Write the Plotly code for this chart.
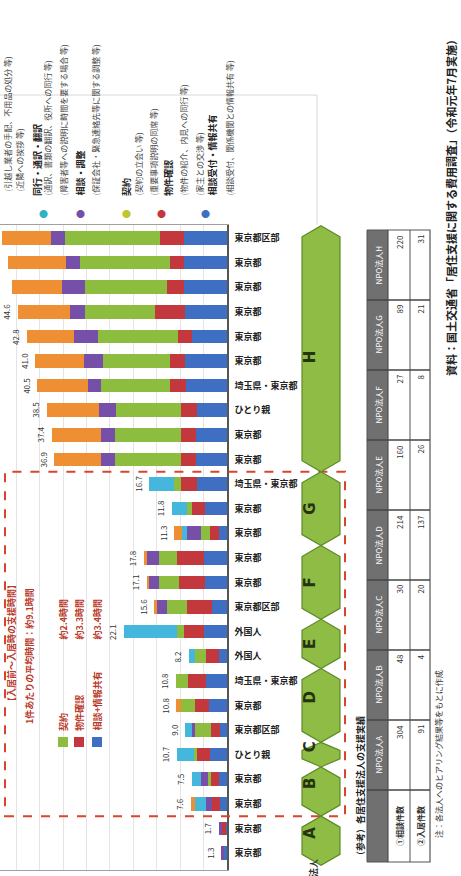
import plotly.graph_objects as go

# ---------------- data (original order: left→right = A … H) ----------------
cat_labels = ["東京都", "東京都", "東京都", "東京都", "ひとり親", "東京都区部", "東京都",
              "埼玉県・東京都", "外国人", "外国人", "東京都区部", "東京都", "東京都", "東京都",
              "東京都", "埼玉県・東京都", "東京都", "東京都", "ひとり親", "埼玉県・東京都",
              "東京都", "東京都", "東京都", "東京都", "東京都", "東京都区部"]
groups = ["A", "B", "C", "D", "E", "F", "G", "H"]
group_sizes = [2, 2, 1, 3, 2, 3, 3, 10]

blue = [0.6, 0.3, 1.4, 1.7, 3.6, 1.6, 3.9, 4.5, 1.7, 4.9, 3.2, 4.7, 4.9, 1.7, 4.7, 6.4,
        6.6, 6.6, 6.4, 8.8, 9.0, 7.5, 9.0, 9.2, 9.2, 9.2]
red = [0.0, 0.8, 1.7, 1.7, 2.8, 1.9, 3.0, 3.9, 2.8, 4.3, 5.4, 5.6, 5.8, 1.9, 2.8, 3.4,
       3.2, 3.2, 3.4, 3.4, 3.2, 3.0, 6.4, 3.6, 3.0, 5.1]
green = [0.0, 0.0, 0.0, 0.7, 0.7, 3.4, 3.0, 2.4, 2.4, 1.5, 4.3, 4.3, 3.9, 1.9, 1.1, 1.5,
         14.2, 14.2, 14.0, 14.8, 14.2, 17.0, 15.0, 17.6, 19.3, 20.4]
purple = [0.7, 0.6, 1.4, 1.4, 0.0, 0.6, 0.0, 0.0, 0.0, 0.0, 2.1, 2.1, 2.6, 3.0, 0.0, 0.0,
          3.0, 3.0, 3.6, 2.8, 4.1, 5.1, 3.2, 4.9, 3.0, 2.8]
cyan = [0.0, 0.0, 2.4, 2.0, 3.6, 1.5, 0.0, 0.0, 1.3, 11.4, 0.0, 0.0, 0.0, 1.1, 3.2, 5.4,
        0, 0, 0, 0, 0, 0, 0, 0, 0, 0]
orange = [0.0, 0.0, 0.7, 0.0, 0.0, 0.0, 0.9, 0.0, 0.0, 0.0, 0.6, 0.4, 0.6, 1.7, 0.0, 0.0,
          9.9, 10.4, 11.1, 10.7, 10.5, 10.2, 11.0, 10.7, 12.2, 10.5]

series_names = ["相談+情報共有", "物件確認", "契約", "相談・調整", "通訳・同行等", "入居準備"]
series_colors = ["#3F6FC2", "#C2383C", "#8DBD3E", "#7650A8", "#45B6DC", "#EF8F34"]

box_title = "【入居前〜入居時の支援時間】"
box_sub = "1件あたりの平均時間：約9.1時間"
box_items = ["契約", "物件確認", "相談+情報共有"]
box_values = ["約2.4時間", "約3.3時間", "約3.4時間"]
box_colors = ["#8DBD3E", "#C2383C", "#3F6FC2"]

legend_labels = ["同行・通訳・翻訳", "相談・調整", "契約", "物件確認", "相談受付・情報共有"]
legend_bullets = ["#35B0BE", "#7650A8", "#BCC532", "#C2383C", "#3F6FC2"]
legend_desc = [
    ["(通訳、書類の翻訳、役所への同行 等)", "(障害者等への説明に時間を要する場合 等)"],
    ["(保証会社・緊急連絡先等に関する調整 等)"],
    ["(契約の立会い 等)", "(重要事項説明の同席 等)"],
    ["(物件の紹介、内見への同行 等)", "(家主との交渉 等)"],
    ["(相談受付、関係機関との情報共有 等)"],
]
legend_top_lines = ["(引越し業者の手配、不用品の処分 等)", "(近隣への挨拶 等)"]

title = "資料：国土交通省「居住支援に関する費用調査」（令和元年7月実施）"

table_caption = "（参考）各居住支援法人の支援実績"
table_note = "注：各法人へのヒアリング結果等をもとに作成"
table_headers = ["NPO法人A", "NPO法人B", "NPO法人C", "NPO法人D", "NPO法人E",
                 "NPO法人F", "NPO法人G", "NPO法人H"]
table_rows = ["①相談件数", "②入居件数"]
table_row1 = [304, 48, 30, 214, 160, 27, 89, 220]
table_row2 = [91, 4, 20, 137, 26, 8, 21, 31]

# ---------------- layout geometry ----------------
W, H = 461, 876
ML, MR, MT, MB = 0, 234, 225, 6
PW = W - ML - MR
PH = H - MT - MB
X_RANGE = [48.5, 0]
Y_RANGE = [-0.69, 25.53]
FONT = "Noto Sans CJK JP"


def px(x):
    return (x - ML) / PW


def py(y):
    return (H - MB - y) / PH


def idx_to_paper(i):
    return (i - Y_RANGE[0]) / (Y_RANGE[1] - Y_RANGE[0])


def paper_to_pix_y(p):
    return H - MB - p * PH


n = len(cat_labels)
idx = list(range(n))
fig = go.Figure()
for name, vals, col in zip(series_names,
                           [blue, red, green, purple, cyan, orange], series_colors):
    fig.add_trace(go.Bar(y=idx, x=vals, orientation="h", name=name,
                         marker=dict(color=col, line=dict(width=0)), width=0.55,
                         showlegend=False))

annotations = []
shapes = []


def rtext(x, y, text, size=8, color="#333", anchor="bottom", bold=False, xa="center"):
    annotations.append(dict(x=px(x), y=py(y), xref="paper", yref="paper",
                            text=("<b>%s</b>" % text) if bold else text,
                            textangle=-90, showarrow=False, xanchor=xa, yanchor=anchor,
                            font=dict(family=FONT, size=size, color=color)))


# value labels
for i in idx:
    tot = blue[i] + red[i] + green[i] + purple[i] + cyan[i] + orange[i]
    xl = tot + 2.4
    if xl < X_RANGE[0] - 0.8:
        annotations.append(dict(x=xl, y=i, xref="x", yref="y", text="%.1f" % tot,
                                textangle=-90, showarrow=False,
                                font=dict(family=FONT, size=8, color="#333")))

# frame lines
shapes.append(dict(type="line", xref="paper", yref="paper", x0=px(0), x1=px(317),
                   y0=py(95), y1=py(95), line=dict(color="#d8d8d8", width=1)))
shapes.append(dict(type="line", xref="paper", yref="paper", x0=px(317), x1=px(317),
                   y0=py(95), y1=py(225), line=dict(color="#d8d8d8", width=1)))

# top legend
leg_x = [37, 80, 126, 168, 212]
desc_x = [[47, 63], [95], [138, 153], [183, 199], [229]]
rtext(7, 194, legend_top_lines[0], size=8, color="#444")
rtext(19, 194, legend_top_lines[1], size=8, color="#444")
for k in range(len(legend_labels)):
    annotations.append(dict(x=px(leg_x[k]), y=py(205), xref="paper", yref="paper",
                            text="●", showarrow=False,
                            font=dict(size=9, color=legend_bullets[k])))
    rtext(leg_x[k], 198, legend_labels[k], size=9, color="#222", bold=True)
    for d, dx in zip(legend_desc[k], desc_x[k]):
        rtext(dx, 198, d, size=8, color="#444")

# red dashed box
g0 = sum(group_sizes[:1])
g1 = sum(group_sizes[:7]) - 1
yt = paper_to_pix_y(idx_to_paper(g1 + 0.5))
yb = paper_to_pix_y(idx_to_paper(g0 - 0.5))
shapes.append(dict(type="rect", xref="paper", yref="paper", x0=px(5), x1=px(345),
                   y0=py(yb), y1=py(yt),
                   line=dict(color="#D9442C", width=2, dash="dash"), layer="above"))
rtext(11, 708, box_title, size=9, color="#B8392A", bold=True)
rtext(29, 726, box_sub, size=9, color="#B8392A", bold=True)
for k, (it, v, c) in enumerate(zip(box_items, box_values, box_colors)):
    xx = [63, 79, 97][k]
    shapes.append(dict(type="rect", xref="paper", yref="paper", x0=px(xx - 5), x1=px(xx + 5),
                       y0=py(747), y1=py(737), fillcolor=c, line=dict(width=0)))
    rtext(xx, 733, it, size=9, color="#B8392A", bold=True)
    rtext(xx, 642, v, size=9, color="#B8392A", bold=True)

# hexagons
start = 0
for g, sz in zip(groups, group_sizes):
    top = paper_to_pix_y(idx_to_paper(start + sz - 1 + 0.5))
    bot = paper_to_pix_y(idx_to_paper(start - 0.5))
    d = min(11, (bot - top) * 0.33)
    xl, xr, xm = 302, 340, 321
    pts = [(xm, top), (xr, top + d), (xr, bot - d), (xm, bot), (xl, bot - d), (xl, top + d)]
    path = "M " + " L ".join("%.4f,%.4f" % (px(a), py(b)) for a, b in pts) + " Z"
    shapes.append(dict(type="path", xref="paper", yref="paper", path=path,
                       fillcolor="#8FBC44", line=dict(color="#5C8A26", width=1.2),
                       layer="above"))
    annotations.append(dict(x=px(xm), y=py((top + bot) / 2), xref="paper", yref="paper",
                            text="<b>%s</b>" % g, textangle=-90, showarrow=False,
                            font=dict(family="DejaVu Sans", size=15, color="#26330f")))
    start += sz
rtext(313, 868, "法人", size=9, color="#333", anchor="middle", bold=True)

# table
tb_bot, lab_h, cell_h = 862, 72, 70
tx0, tx1, tx2, tx3 = 367, 388, 410, 430
ntab = len(table_headers)
tb_top = tb_bot - lab_h - cell_h * ntab
shapes.append(dict(type="rect", xref="paper", yref="paper", x0=px(tx0), x1=px(tx1),
                   y0=py(tb_bot), y1=py(tb_top), fillcolor="#707070",
                   line=dict(color="#555", width=1)))
shapes.append(dict(type="rect", xref="paper", yref="paper", x0=px(tx1), x1=px(tx3),
                   y0=py(tb_bot), y1=py(tb_top), fillcolor="white",
                   line=dict(color="#555", width=1.2)))
shapes.append(dict(type="line", xref="paper", yref="paper", x0=px(tx2), x1=px(tx2),
                   y0=py(tb_bot), y1=py(tb_top), line=dict(color="#555", width=1)))
bounds = [tb_bot - lab_h - cell_h * j for j in range(ntab + 1)]
for b in bounds[:-1]:
    shapes.append(dict(type="line", xref="paper", yref="paper", x0=px(tx0), x1=px(tx3),
                       y0=py(b), y1=py(b), line=dict(color="#444", width=1.5)))
rtext((tx1 + tx2) / 2, tb_bot - lab_h / 2, table_rows[0], size=8, anchor="middle", bold=True)
rtext((tx2 + tx3) / 2, tb_bot - lab_h / 2, table_rows[1], size=8, anchor="middle", bold=True)
for j in range(ntab):
    cb, ct = bounds[j], bounds[j + 1]
    rtext((tx0 + tx1) / 2, (cb + ct) / 2, table_headers[j], size=8, color="white",
          anchor="middle")
    rtext((tx1 + tx2) / 2, ct + 3, str(table_row1[j]), size=8, anchor="top")
    rtext((tx2 + tx3) / 2, ct + 3, str(table_row2[j]), size=8, anchor="top")
rtext(360, 862, table_caption, size=9, color="#222", bold=True)
rtext(438, 840, table_note, size=8, color="#333")

# title
rtext(451, 378, title, size=11, color="#222", bold=True)

fig.update_layout(
    width=W, height=H, margin=dict(l=ML, r=MR, t=MT, b=MB),
    barmode="stack", bargap=0.45,
    paper_bgcolor="white", plot_bgcolor="white",
    xaxis=dict(range=X_RANGE, dtick=5, showgrid=True, gridcolor="#e4e4e4",
               showticklabels=False, zeroline=False, showline=True, mirror=True,
               linecolor="#a0a0a0", linewidth=1, fixedrange=True),
    yaxis=dict(range=Y_RANGE, tickvals=idx, ticktext=cat_labels, side="right",
               showgrid=False, zeroline=False, showline=True, linecolor="#555",
               linewidth=1.5, ticks="outside", ticklen=4, tickcolor="rgba(0,0,0,0)",
               tickfont=dict(family=FONT, size=9, color="#222", weight="bold"),
               fixedrange=True),
    shapes=shapes, annotations=annotations,
    font=dict(family=FONT),
)
fig.write_html("out.html")
